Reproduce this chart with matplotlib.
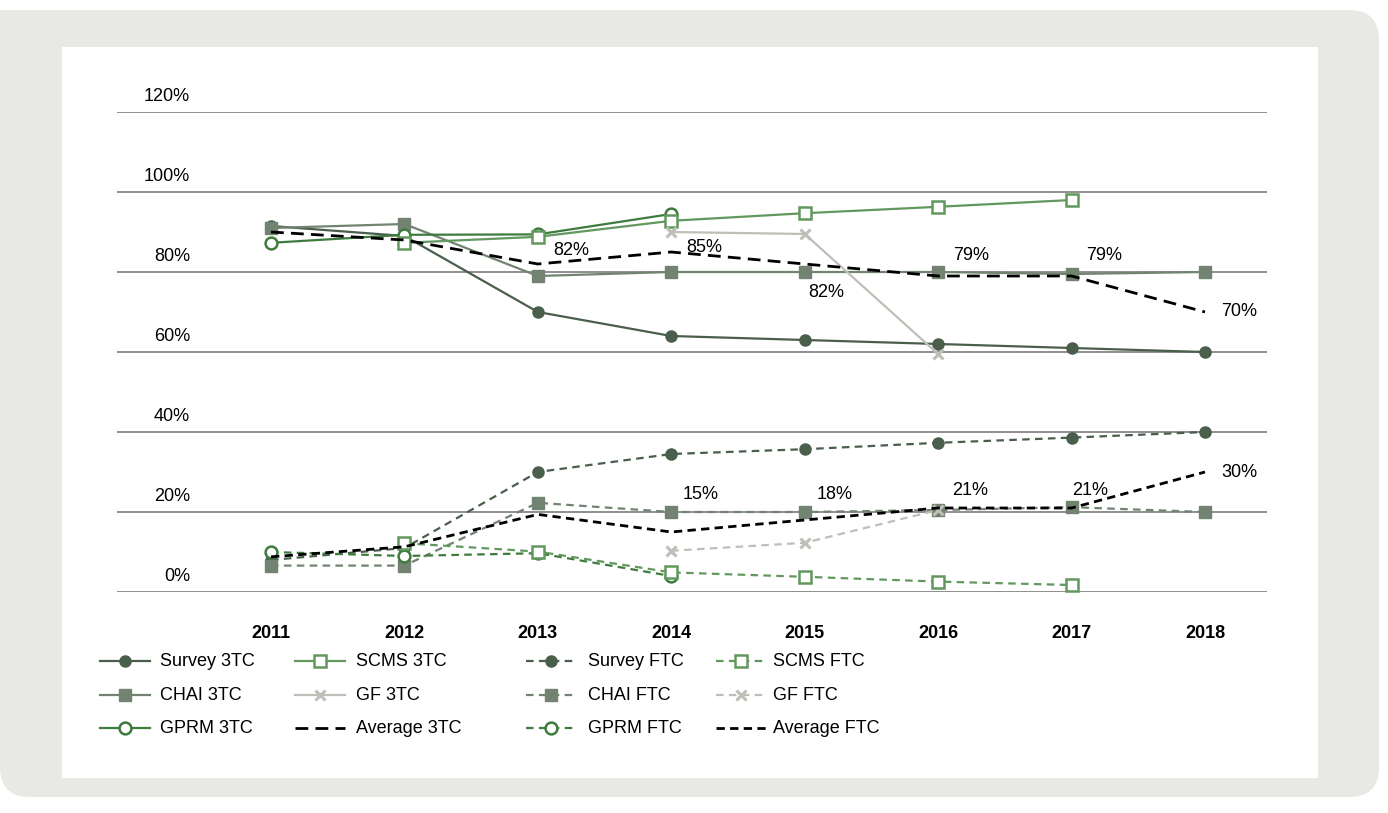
import numpy as np
import matplotlib
matplotlib.use("Agg")
import matplotlib.pyplot as plt
from matplotlib.patches import FancyBboxPatch, Rectangle
from matplotlib.lines import Line2D

nan = np.nan

# ---- data ----
years = [2011, 2012, 2013, 2014, 2015, 2016, 2017, 2018]

survey_3tc = [91.5, 89, 70, 64, 63, 62, 61, 60]
chai_3tc = [91, 92, 79, 80, 80, 80, 79.5, 80]
gprm_3tc = [87.3, 89.3, 89.4, 94.5, nan, nan, nan, nan]
scms_3tc = [nan, 87.3, 88.8, 92.8, 94.7, 96.3, 98, nan]
gf_3tc = [nan, nan, nan, 90, 89.5, 59.5, nan, nan]
avg_3tc = [90, 88, 82, 85, 82, 79, 79, 70]

survey_ftc = [8, 11, 30, 34.5, 35.7, 37.3, 38.6, 40]
chai_ftc = [6.6, 6.6, 22.3, 20, 20, 20.5, 21.2, 20]
gprm_ftc = [10, 9, 9.7, 4, nan, nan, nan, nan]
scms_ftc = [nan, 12.2, 10.1, 4.9, 3.8, 2.6, 1.75, nan]
gf_ftc = [nan, nan, nan, 10.3, 12.3, 20.5, nan, nan]
avg_ftc = [8.8, 11.3, 19.4, 15, 18, 21, 21, 30]

y_ticks = [0, 20, 40, 60, 80, 100, 120]
y_tick_labels = ["0%", "20%", "40%", "60%", "80%", "100%", "120%"]

# value labels on the average lines: (year index, text offset in px)
avg_3tc_label_offsets = {2: (15, 14), 3: (15, 5), 4: (4, -29), 5: (15, 21), 6: (15, 21), 7: (16, 0)}
avg_ftc_label_offsets = {3: (11, 38), 4: (12, 26), 5: (14, 18), 6: (1, 18), 7: (16, 0)}

# ---- styling ----
C_SURVEY = "#4a5e4c"
C_CHAI = "#728471"
C_GPRM = "#3e7b3e"
C_SCMS = "#62985e"
C_GF = "#bebfb6"
C_AVG = "#000000"
C_GRID = "#707070"
C_PANEL = "#e8e8e4"

FONT = ["Liberation Sans", "DejaVu Sans"]
plt.rcParams["font.family"] = FONT

W, H = 1388, 813
fig = plt.figure(figsize=(W / 100, H / 100), dpi=100)

# background panel, drawn in pixel space
bg = fig.add_axes([0, 0, 1, 1], zorder=0)
bg.set_xlim(0, W)
bg.set_ylim(H, 0)
bg.axis("off")
bg.add_patch(FancyBboxPatch((0, 10), 1379, 787,
                            boxstyle="round,pad=0,rounding_size=30",
                            fc=C_PANEL, ec="none"))
bg.add_patch(Rectangle((0, 10), 60, 60, fc=C_PANEL, ec="none"))
bg.add_patch(Rectangle((62, 47), 1318 - 62, 778 - 47, fc="white", ec="none"))

# main plot area
x_left, x_right = 117, 1267
y_top, y_bot = 112, 592
ax = fig.add_axes([x_left / W, (H - y_bot) / H, (x_right - x_left) / W, (y_bot - y_top) / H],
                  zorder=1)
ax.patch.set_alpha(0)
step = (1205 - 271) / 7
ax.set_xlim(2011 - (271 - x_left) / step, 2018 + (x_right - 1205) / step)
ax.set_ylim(0, 120)
for s in ax.spines.values():
    s.set_visible(False)
ax.set_yticks([])
ax.set_xticks(years)
ax.set_xticklabels([str(y) for y in years], fontsize=13, fontweight="bold")
ax.tick_params(axis="x", length=0, pad=24)

for v, lab in zip(y_ticks, y_tick_labels):
    ax.axhline(v, color=C_GRID, lw=1.1, zorder=1)
    ax.annotate(lab, xy=(0, v), xycoords=("axes fraction", "data"),
                xytext=(73 / 1.389, 5), textcoords="offset points",
                ha="right", va="bottom", fontsize=13)

solid = "-"
dash_ftc = (0, (3.4, 2.4))
dash_avg3 = (0, (4.6, 2.6))
dash_avgf = (0, (3.0, 1.9))

series = [
    # values, color, linestyle, lw, marker, ms, filled, label
    (survey_3tc, C_SURVEY, solid, 1.6, "o", 8, True, "Survey 3TC"),
    (chai_3tc, C_CHAI, solid, 1.6, "s", 8.5, True, "CHAI 3TC"),
    (gprm_3tc, C_GPRM, solid, 1.6, "o", 8.5, False, "GPRM 3TC"),
    (scms_3tc, C_SCMS, solid, 1.6, "s", 8.5, False, "SCMS 3TC"),
    (gf_3tc, C_GF, solid, 1.6, "x", 7, True, "GF 3TC"),
    (avg_3tc, C_AVG, dash_avg3, 2.0, None, 0, True, "Average 3TC"),
    (survey_ftc, C_SURVEY, dash_ftc, 1.6, "o", 8, True, "Survey FTC"),
    (chai_ftc, C_CHAI, dash_ftc, 1.6, "s", 8.5, True, "CHAI FTC"),
    (gprm_ftc, C_GPRM, dash_ftc, 1.6, "o", 8.5, False, "GPRM FTC"),
    (scms_ftc, C_SCMS, dash_ftc, 1.6, "s", 8.5, False, "SCMS FTC"),
    (gf_ftc, C_GF, dash_ftc, 1.6, "x", 7, True, "GF FTC"),
    (avg_ftc, C_AVG, dash_avgf, 2.0, None, 0, True, "Average FTC"),
]

handles = {}
for vals, col, ls, lw, mk, ms, filled, lab in series:
    kw = dict(color=col, linestyle=ls, lw=lw, marker=mk, markersize=ms,
              markeredgecolor=col, markerfacecolor=col if filled else "white",
              markeredgewidth=1.8 if not filled else (2.2 if mk == "x" else 1),
              clip_on=False, zorder=3, dash_capstyle="butt")
    ax.plot(years, vals, **kw)
    handles[lab] = kw

for idx, (dx, dy) in avg_3tc_label_offsets.items():
    ax.annotate(f"{avg_3tc[idx]:.0f}%", xy=(years[idx], avg_3tc[idx]),
                xytext=(dx / 1.389, dy / 1.389), textcoords="offset points",
                ha="left", va="center", fontsize=13, zorder=5)
for idx, (dx, dy) in avg_ftc_label_offsets.items():
    ax.annotate(f"{avg_ftc[idx]:.0f}%", xy=(years[idx], avg_ftc[idx]),
                xytext=(dx / 1.389, dy / 1.389), textcoords="offset points",
                ha="left", va="center", fontsize=13, zorder=5)

# legend, laid out as a 3 x 4 grid in pixel space
legend_layout = [
    ["Survey 3TC", "SCMS 3TC", "Survey FTC", "SCMS FTC"],
    ["CHAI 3TC", "GF 3TC", "CHAI FTC", "GF FTC"],
    ["GPRM 3TC", "Average 3TC", "GPRM FTC", "Average FTC"],
]
col_handle_x = [100, 295, 526, 716]
col_text_x = [160, 356, 588, 773]
row_y = [661, 695, 728]
for r, row in enumerate(legend_layout):
    for c, lab in enumerate(row):
        kw = dict(handles[lab])
        kw.pop("clip_on")
        kw.pop("zorder")
        x0 = col_handle_x[c]
        bg.add_line(Line2D([x0, x0 + 50], [row_y[r], row_y[r]],
                           **{k: v for k, v in kw.items() if k not in ("marker", "markersize")}))
        if kw["marker"]:
            bg.add_line(Line2D([x0 + 25], [row_y[r]], linestyle="none",
                               marker=kw["marker"], markersize=kw["markersize"],
                               markeredgecolor=kw["markeredgecolor"],
                               markerfacecolor=kw["markerfacecolor"],
                               markeredgewidth=kw["markeredgewidth"]))
        bg.text(col_text_x[c], row_y[r], lab, ha="left", va="center", fontsize=13)

fig.savefig("out.png", dpi=100)
